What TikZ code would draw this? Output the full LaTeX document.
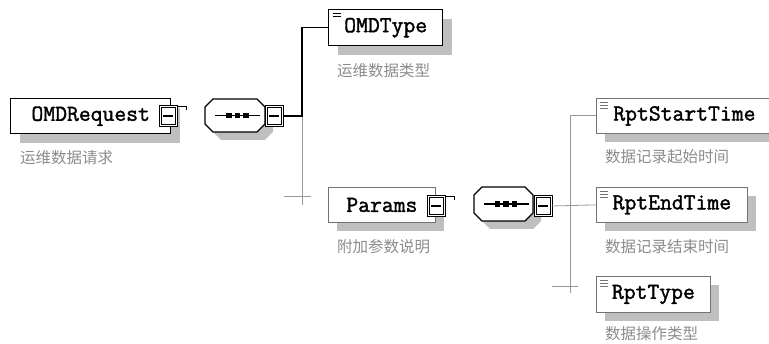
\documentclass[tikz,border=0pt]{standalone}
\usepackage{fontspec}
\usepackage{tikz}
\usetikzlibrary{positioning, shadows, shapes.misc}
\newfontfamily\cjk{Noto Sans CJK SC}
\newfontfamily\elfont[FakeBold=1.6]{Latin Modern Mono}
\tikzstyle{elem}=[rectangle, draw = black, line width = 1.4pt, fill = white, inner sep = 0pt, anchor = north west,
  font = \elfont\fontsize{23}{23}\selectfont,
  drop shadow = {shadow xshift = 9pt, shadow yshift = -9pt, fill = black!25, opacity = 1}]
\tikzstyle{opt}=[elem, draw = black!55, line width = .8pt]
\tikzstyle{lines2}=[path picture = {\foreach \k in {3.5,6.5} \draw[line width = .9pt] ([xshift = 4pt, yshift = -\k pt]path picture bounding box.north west) -- ++(8,0);}]
\tikzstyle{lines3}=[path picture = {\foreach \k in {4,7,10} \draw[line width = .9pt] ([xshift = 4pt, yshift = -\k pt]path picture bounding box.north west) -- ++(8,0);}]
\tikzstyle{seq}=[chamfered rectangle, chamfered rectangle sep = 4pt, draw, line width = 1.4pt, fill = white,
  inner xsep = 26pt, inner ysep = 12.5pt,
  drop shadow = {shadow xshift = 8pt, shadow yshift = -8pt, fill = black!25, opacity = 1},
  path picture = {\draw[line width = 1.5pt] ([xshift = -20pt]path picture bounding box.center) -- ([xshift = 25pt]path picture bounding box.center);
    \foreach \d in {-6,2.5,11} \fill[black] ([xshift = \d pt]path picture bounding box.center) +(-2.8pt,-2.8pt) rectangle +(2.8pt,2.8pt);}]
\tikzstyle{minus}=[rectangle, draw, double, double distance = 1pt, line width = 1pt, fill = white, minimum width = 16pt, minimum height = 18.5pt, inner sep = 0pt,
  path picture = {\draw[line width = 1.4pt] ([xshift = 3pt]path picture bounding box.west) -- ([xshift = -3pt]path picture bounding box.east);}]
\tikzstyle{lab}=[inner sep = 0pt, anchor = north west, text = black!45, font = \cjk\fontsize{15.5}{15.5}\selectfont]
\tikzstyle{link}=[line width = 1.3pt]
\tikzstyle{weak}=[draw = black!40, line width = .8pt]

\begin{document}
\begin{tikzpicture}[x = 1pt, y = -1pt]
  \useasboundingbox (0,0) rectangle (769,344);
  % elements
  \node[elem, minimum width = 160pt, minimum height = 35pt] (req) at (10,98) {OMDRequest\hspace{6pt}};
  \node[elem, lines2, minimum width = 114pt, minimum height = 36pt] (omd) at (328,9) {OMDType};
  \node[opt, minimum width = 107pt, minimum height = 35pt] (par) at (328,187) {Params};
  \node[opt, lines3, minimum width = 176pt, minimum height = 35pt] (rst) at (596,98) {RptStartTime};
  \node[opt, lines3, minimum width = 151pt, minimum height = 35pt] (ret) at (596,187) {RptEndTime};
  \node[opt, lines3, minimum width = 114pt, minimum height = 36pt] (rty) at (596,276) {RptType};
  % sequences
  \node[seq] (seq1) at (235,115.5) {};
  \node[seq, inner xsep = 25.5pt, inner ysep = 13pt] (seq2) at (503.5,204) {};
  % expand boxes
  \node[minus] (reqx) at (168,116) {};
  \node[minus] (seq1x) at (274,116) {};
  \node[minus] (parx) at (436,206) {};
  \node[minus] (seq2x) at (543,206) {};
  \draw[line width = 1pt] (reqx.north east) -- ++(10,0) -- ++(0,4);
  \draw[line width = 1pt] (parx.north east) -- ++(10,0) -- ++(0,4);
  % labels
  \node[lab, below right = 16pt and 10pt of req.south west] (reqlab) {运维数据请求};
  \node[lab, below right = 17pt and 9pt of omd.south west] (omdlab) {运维数据类型};
  \node[lab, below right = 16pt and 9pt of par.south west] (parlab) {附加参数说明};
  \node[lab, below right = 15pt and 9pt of rst.south west] (rstlab) {数据记录起始时间};
  \node[lab, below right = 16pt and 9pt of ret.south west] (retlab) {数据记录结束时间};
  \node[lab, below right = 13pt and 9pt of rty.south west] (rtylab) {数据操作类型};
  % connectors
  \coordinate (end1) at (302,205);
  \coordinate (tick1) at (302,196);
  \coordinate (end2) at (570,293);
  \coordinate (tick2) at (570,286);
  \draw[weak] (seq1x.east) -| (end1);
  \draw[weak] (tick1) ++(-18,0) -- ++(27,0);
  \draw[link] (seq1x.east) -| (end1 |- omd.west) -- (omd.west);
  \draw[weak] (rst.west) -| (end2);
  \draw[weak] (seq2x.east) -- (ret.west);
  \draw[weak] (tick2) ++(-18,0) -- ++(26,0);
\end{tikzpicture}
\end{document}
